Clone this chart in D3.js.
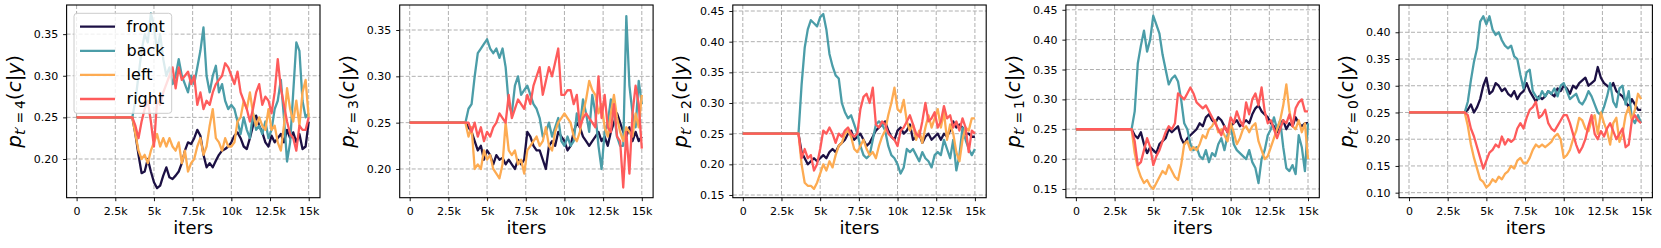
<!DOCTYPE html>
<html>
<head>
<meta charset="utf-8">
<script src="https://cdn.jsdelivr.net/npm/d3@7"></script>
<style>
  body { margin: 0; background: #fff; }
  svg { display: block; font-family: "DejaVu Sans", sans-serif; }
</style>
</head>
<body>
<div id="chart"></div>
<script>
// iteration steps after the flat warm-up part (all classes at 0.25 from 0 to 3.6k)
var iters = d3.range(3600, 15001, 200);
var classes = ["front", "back", "left", "right"];
var colors = ["#1c1044", "#4b9da8", "#fdab52", "#fe5b5b"];
var tPrime = [4, 3, 2, 1, 0];

var xTickValues = [0, 2500, 5000, 7500, 10000, 12500, 15000];
var xTickLabels = ["0", "2.5k", "5k", "7.5k", "10k", "12.5k", "15k"];
var yTicks = [
  [0.20, 0.25, 0.30, 0.35],
  [0.20, 0.25, 0.30, 0.35],
  [0.15, 0.20, 0.25, 0.30, 0.35, 0.40, 0.45],
  [0.15, 0.20, 0.25, 0.30, 0.35, 0.40, 0.45],
  [0.10, 0.15, 0.20, 0.25, 0.30, 0.35, 0.40]
];
var yLimits = [
  [0.1535, 0.385],
  [0.169, 0.377],
  [0.1456, 0.4598],
  [0.1354, 0.458],
  [0.0906, 0.451]
];

// t' = 4
var front4 = [0.25,0.23,0.205,0.183,0.185,0.20,0.185,0.172,0.165,0.168,
  0.18,0.19,0.178,0.176,0.18,0.185,0.195,0.21,0.22,0.218,
  0.225,0.235,0.228,0.205,0.19,0.195,0.19,0.198,0.205,0.21,
  0.212,0.215,0.22,0.228,0.232,0.225,0.215,0.212,0.225,0.24,
  0.252,0.24,0.232,0.22,0.215,0.228,0.22,0.225,0.23,0.22,
  0.235,0.225,0.232,0.22,0.23,0.212,0.215,0.245];
var back4 = [0.25,0.27,0.30,0.33,0.35,0.34,0.375,0.36,0.33,0.35,
  0.32,0.30,0.31,0.29,0.30,0.32,0.30,0.29,0.28,0.30,
  0.29,0.31,0.33,0.358,0.30,0.28,0.30,0.312,0.28,0.29,
  0.27,0.26,0.265,0.26,0.245,0.23,0.25,0.235,0.225,0.255,
  0.235,0.24,0.23,0.245,0.225,0.235,0.26,0.27,0.295,0.25,
  0.197,0.22,0.28,0.34,0.33,0.27,0.25,0.255];
var left4 = [0.25,0.23,0.21,0.20,0.205,0.195,0.21,0.22,0.23,0.215,
  0.225,0.215,0.225,0.215,0.21,0.22,0.195,0.21,0.185,0.195,
  0.20,0.215,0.225,0.205,0.215,0.24,0.26,0.225,0.22,0.21,
  0.225,0.215,0.215,0.22,0.245,0.25,0.27,0.26,0.28,0.255,
  0.24,0.25,0.24,0.235,0.26,0.235,0.24,0.22,0.21,0.24,
  0.285,0.26,0.245,0.27,0.24,0.28,0.295,0.25];
var right4 = [0.25,0.24,0.225,0.245,0.26,0.27,0.245,0.215,0.27,0.265,
  0.28,0.29,0.30,0.31,0.285,0.31,0.295,0.30,0.305,0.29,
  0.30,0.265,0.28,0.26,0.27,0.265,0.28,0.29,0.295,0.30,
  0.315,0.31,0.30,0.29,0.305,0.28,0.27,0.26,0.245,0.26,
  0.28,0.29,0.265,0.275,0.27,0.255,0.28,0.32,0.285,0.265,
  0.245,0.23,0.225,0.21,0.24,0.235,0.235,0.25];

// t' = 3
var front3 = [0.25,0.245,0.24,0.23,0.22,0.225,0.21,0.22,0.215,0.205,
  0.215,0.21,0.212,0.205,0.21,0.205,0.20,0.21,0.205,0.21,
  0.24,0.235,0.225,0.22,0.22,0.21,0.20,0.225,0.23,0.225,
  0.24,0.235,0.23,0.22,0.225,0.24,0.25,0.245,0.235,0.23,
  0.225,0.23,0.235,0.24,0.23,0.235,0.225,0.24,0.25,0.26,
  0.25,0.24,0.235,0.245,0.23,0.24,0.23,0.235];
var back3 = [0.25,0.265,0.27,0.30,0.325,0.33,0.335,0.34,0.33,0.325,
  0.33,0.32,0.33,0.31,0.27,0.26,0.29,0.30,0.28,0.285,
  0.29,0.28,0.27,0.265,0.255,0.235,0.24,0.25,0.235,0.245,
  0.255,0.23,0.225,0.235,0.225,0.23,0.26,0.245,0.275,0.26,
  0.24,0.28,0.26,0.225,0.20,0.24,0.25,0.275,0.26,0.235,
  0.225,0.225,0.365,0.29,0.26,0.245,0.295,0.27];
var left3 = [0.25,0.235,0.245,0.20,0.205,0.20,0.22,0.21,0.215,0.20,
  0.195,0.19,0.205,0.25,0.22,0.215,0.22,0.205,0.21,0.195,
  0.22,0.225,0.23,0.235,0.225,0.23,0.245,0.225,0.22,0.24,
  0.25,0.255,0.26,0.255,0.25,0.235,0.23,0.24,0.26,0.275,
  0.295,0.285,0.28,0.26,0.27,0.245,0.235,0.26,0.28,0.255,
  0.24,0.23,0.245,0.24,0.235,0.26,0.245,0.28];
var right3 = [0.25,0.25,0.24,0.25,0.235,0.245,0.23,0.24,0.235,0.245,
  0.25,0.26,0.255,0.25,0.28,0.255,0.265,0.275,0.27,0.265,
  0.28,0.27,0.29,0.30,0.31,0.28,0.295,0.31,0.30,0.315,
  0.33,0.28,0.28,0.285,0.285,0.27,0.28,0.245,0.255,0.26,
  0.255,0.25,0.245,0.30,0.255,0.28,0.245,0.24,0.27,0.235,
  0.23,0.18,0.24,0.195,0.26,0.29,0.27,0.222];

// t' = 2
var front2 = [0.25,0.22,0.21,0.20,0.205,0.21,0.205,0.21,0.215,0.21,
  0.22,0.225,0.22,0.23,0.235,0.24,0.25,0.255,0.24,0.245,
  0.25,0.24,0.23,0.235,0.245,0.255,0.26,0.265,0.27,0.255,
  0.245,0.24,0.255,0.26,0.25,0.255,0.265,0.24,0.245,0.25,
  0.235,0.245,0.25,0.24,0.245,0.25,0.24,0.25,0.245,0.255,
  0.27,0.26,0.265,0.26,0.25,0.25,0.245,0.245];
var back2 = [0.25,0.33,0.39,0.42,0.435,0.43,0.425,0.44,0.445,0.42,
  0.38,0.36,0.345,0.34,0.30,0.285,0.275,0.28,0.265,0.25,
  0.23,0.215,0.21,0.215,0.24,0.265,0.27,0.265,0.255,0.23,
  0.215,0.21,0.20,0.185,0.195,0.225,0.22,0.225,0.215,0.205,
  0.22,0.21,0.205,0.195,0.215,0.22,0.215,0.24,0.225,0.21,
  0.24,0.19,0.215,0.26,0.24,0.225,0.215,0.225];
var left2 = [0.25,0.20,0.17,0.165,0.165,0.16,0.17,0.185,0.20,0.19,
  0.205,0.195,0.215,0.23,0.235,0.25,0.255,0.245,0.225,0.22,
  0.23,0.24,0.225,0.215,0.22,0.21,0.23,0.245,0.255,0.28,
  0.30,0.325,0.29,0.285,0.305,0.27,0.255,0.265,0.24,0.255,
  0.235,0.26,0.28,0.26,0.275,0.29,0.26,0.285,0.24,0.265,
  0.25,0.22,0.205,0.24,0.26,0.255,0.275,0.275];
var right2 = [0.25,0.21,0.225,0.21,0.215,0.19,0.20,0.225,0.255,0.25,
  0.26,0.25,0.235,0.25,0.245,0.255,0.26,0.25,0.245,0.25,
  0.29,0.31,0.315,0.30,0.325,0.265,0.26,0.27,0.265,0.25,
  0.245,0.24,0.23,0.255,0.26,0.27,0.28,0.265,0.25,0.245,
  0.27,0.30,0.27,0.275,0.285,0.26,0.27,0.295,0.275,0.28,
  0.26,0.27,0.255,0.275,0.26,0.22,0.255,0.25];

// t' = 1
var front1 = [0.25,0.24,0.235,0.245,0.225,0.21,0.22,0.215,0.21,0.225,
  0.23,0.235,0.25,0.245,0.25,0.255,0.235,0.225,0.235,0.24,
  0.245,0.25,0.26,0.255,0.27,0.275,0.265,0.26,0.27,0.265,
  0.255,0.245,0.255,0.26,0.265,0.255,0.26,0.265,0.26,0.275,
  0.285,0.29,0.28,0.275,0.27,0.26,0.255,0.245,0.26,0.265,
  0.25,0.26,0.255,0.27,0.26,0.255,0.26,0.26];
var back1 = [0.25,0.28,0.36,0.39,0.415,0.38,0.40,0.44,0.425,0.41,
  0.375,0.35,0.325,0.335,0.34,0.33,0.30,0.26,0.25,0.225,
  0.215,0.22,0.205,0.20,0.215,0.195,0.21,0.205,0.225,0.235,
  0.215,0.24,0.26,0.225,0.215,0.21,0.205,0.20,0.215,0.195,
  0.185,0.16,0.20,0.215,0.24,0.25,0.27,0.25,0.265,0.22,
  0.185,0.18,0.19,0.175,0.24,0.22,0.18,0.26];
var left1 = [0.25,0.21,0.185,0.17,0.16,0.165,0.155,0.15,0.16,0.17,
  0.18,0.175,0.19,0.18,0.17,0.165,0.19,0.225,0.23,0.215,
  0.22,0.215,0.225,0.24,0.235,0.25,0.255,0.265,0.245,0.25,
  0.24,0.23,0.26,0.245,0.225,0.235,0.25,0.255,0.245,0.255,
  0.26,0.23,0.215,0.20,0.205,0.22,0.235,0.25,0.265,0.29,
  0.325,0.28,0.255,0.25,0.265,0.245,0.26,0.20];
var right1 = [0.25,0.23,0.19,0.195,0.215,0.235,0.22,0.19,0.205,0.215,
  0.23,0.245,0.255,0.25,0.26,0.31,0.305,0.30,0.31,0.32,
  0.31,0.295,0.29,0.285,0.29,0.28,0.27,0.26,0.25,0.24,
  0.255,0.245,0.27,0.26,0.28,0.265,0.255,0.295,0.275,0.30,
  0.31,0.29,0.32,0.28,0.26,0.265,0.25,0.235,0.25,0.265,
  0.26,0.275,0.255,0.285,0.295,0.30,0.28,0.28];

// t' = 0
var front0 = [0.25,0.255,0.265,0.25,0.26,0.275,0.30,0.315,0.285,0.29,
  0.305,0.30,0.29,0.295,0.285,0.28,0.29,0.275,0.285,0.29,
  0.305,0.29,0.28,0.27,0.28,0.275,0.28,0.29,0.285,0.28,
  0.295,0.29,0.30,0.295,0.285,0.30,0.295,0.305,0.31,0.315,
  0.30,0.305,0.31,0.335,0.315,0.305,0.30,0.295,0.305,0.29,
  0.285,0.28,0.27,0.26,0.275,0.265,0.255,0.255];
var back0 = [0.25,0.27,0.31,0.345,0.37,0.42,0.43,0.415,0.43,0.405,
  0.395,0.40,0.385,0.375,0.37,0.375,0.355,0.35,0.32,0.295,
  0.325,0.33,0.29,0.28,0.275,0.29,0.28,0.29,0.285,0.295,
  0.28,0.30,0.305,0.29,0.275,0.28,0.285,0.27,0.265,0.275,
  0.29,0.28,0.265,0.25,0.245,0.26,0.28,0.305,0.27,0.26,
  0.295,0.30,0.265,0.29,0.24,0.23,0.245,0.23];
var left0 = [0.25,0.225,0.19,0.165,0.145,0.125,0.12,0.11,0.115,0.125,
  0.12,0.13,0.125,0.135,0.14,0.15,0.145,0.16,0.165,0.155,
  0.155,0.165,0.18,0.19,0.185,0.19,0.185,0.19,0.195,0.205,
  0.21,0.20,0.165,0.17,0.18,0.20,0.215,0.24,0.235,0.22,
  0.215,0.235,0.245,0.21,0.25,0.23,0.215,0.19,0.23,0.24,
  0.195,0.21,0.245,0.26,0.235,0.255,0.285,0.275];
var right0 = [0.25,0.245,0.22,0.205,0.185,0.165,0.145,0.16,0.175,0.18,
  0.19,0.185,0.205,0.19,0.20,0.195,0.20,0.22,0.23,0.22,
  0.24,0.255,0.26,0.27,0.24,0.245,0.255,0.23,0.22,0.215,
  0.225,0.235,0.245,0.245,0.23,0.21,0.19,0.175,0.185,0.20,
  0.225,0.245,0.21,0.20,0.215,0.205,0.22,0.23,0.215,0.20,
  0.21,0.22,0.185,0.19,0.235,0.245,0.235,0.23];

var panelSeries = [
  [front4, back4, left4, right4],
  [front3, back3, left3, right3],
  [front2, back2, left2, right2],
  [front1, back1, left1, right1],
  [front0, back0, left0, right0]
];

var width = 1661, height = 248;
var frameW = 253.4, frameH = 192.7, frameTop = 5;

var svg = d3.select("#chart")
  .append("svg")
    .attr("width", width)
    .attr("height", height);

var x = d3.scaleLinear()
  .domain([0, 15000])
  .range([10, 242.1]);

panelSeries.forEach(function(series, p) {
  var g = svg.append("g")
    .attr("transform", "translate(" + (66.6 + p * 333.1) + "," + frameTop + ")");

  var y = d3.scaleLinear()
    .domain(yLimits[p])
    .range([frameH, 0]);

  g.append("clipPath")
      .attr("id", "clip" + p)
    .append("rect")
      .attr("width", frameW)
      .attr("height", frameH);

  // dashed grid
  g.selectAll(".vgrid")
    .data(xTickValues)
    .enter()
    .append("line")
      .attr("x1", function(d) { return x(d); })
      .attr("x2", function(d) { return x(d); })
      .attr("y1", 0)
      .attr("y2", frameH)
      .attr("stroke", "#b0b0b0")
      .attr("stroke-width", 1)
      .attr("stroke-dasharray", "4,2");
  g.selectAll(".hgrid")
    .data(yTicks[p])
    .enter()
    .append("line")
      .attr("x1", 0)
      .attr("x2", frameW)
      .attr("y1", function(d) { return y(d); })
      .attr("y2", function(d) { return y(d); })
      .attr("stroke", "#b0b0b0")
      .attr("stroke-width", 1)
      .attr("stroke-dasharray", "4,2");

  var line = d3.line()
    .x(function(d) { return x(d[0]); })
    .y(function(d) { return y(d[1]); });

  series.forEach(function(vals, k) {
    var pts = [[0, 0.25]].concat(vals.map(function(v, i) { return [iters[i], v]; }));
    g.append("path")
      .datum(pts)
      .attr("clip-path", "url(#clip" + p + ")")
      .attr("fill", "none")
      .attr("stroke", colors[k])
      .attr("stroke-width", 2.3)
      .attr("stroke-linejoin", "round")
      .attr("d", line);
  });

  g.append("rect")
    .attr("width", frameW)
    .attr("height", frameH)
    .attr("fill", "none")
    .attr("stroke", "#000")
    .attr("stroke-width", 1.1);

  var xAxis = g.append("g")
    .attr("transform", "translate(0," + frameH + ")")
    .call(d3.axisBottom(x)
      .tickValues(xTickValues)
      .tickFormat(function(d, i) { return xTickLabels[i]; })
      .tickSize(3.5)
      .tickPadding(6));
  var yAxis = g.append("g")
    .call(d3.axisLeft(y)
      .tickValues(yTicks[p])
      .tickFormat(d3.format(".2f"))
      .tickSize(3.5)
      .tickPadding(4.9));
  [xAxis, yAxis].forEach(function(a) {
    a.select(".domain").remove();
    a.selectAll("line").attr("stroke", "#000").attr("stroke-width", 0.9);
    a.selectAll("text")
      .attr("fill", "#000")
      .style("font-family", "DejaVu Sans")
      .style("font-size", "11px");
  });

  g.append("text")
    .attr("x", frameW / 2)
    .attr("y", 229)
    .attr("text-anchor", "middle")
    .style("font-size", "18px")
    .text("iters");

  // y label p_{t'=k}(c|y)
  var yl = g.append("text")
    .attr("transform", "translate(-46," + (frameH / 2) + ") rotate(-90)")
    .attr("text-anchor", "middle")
    .style("font-size", "20px");
  yl.append("tspan").style("font-style", "italic").text("p");
  yl.append("tspan").attr("dy", 4.5).style("font-size", "14px").style("font-style", "italic").text("t");
  yl.append("tspan").style("font-size", "14px").text("\u2032\u2009=\u2009" + tPrime[p]);
  yl.append("tspan").attr("dy", -4.5).text("(");
  yl.append("tspan").style("font-style", "italic").text("c");
  yl.append("tspan").text("|");
  yl.append("tspan").style("font-style", "italic").text("y");
  yl.append("tspan").text(")");

  if (p === 0) {
    var leg = g.append("g").attr("transform", "translate(7.4,8.3)");
    leg.append("rect")
      .attr("width", 97.7)
      .attr("height", 100)
      .attr("rx", 3)
      .attr("fill", "#fff")
      .attr("fill-opacity", 0.8)
      .attr("stroke", "#cccccc")
      .attr("stroke-width", 1);
    classes.forEach(function(c, k) {
      var cy = 13.4 + k * 24.1;
      leg.append("line")
        .attr("x1", 6)
        .attr("x2", 41)
        .attr("y1", cy)
        .attr("y2", cy)
        .attr("stroke", colors[k])
        .attr("stroke-width", 2.3);
      leg.append("text")
        .attr("x", 52.6)
        .attr("y", cy + 5.5)
        .style("font-size", "16px")
        .text(c);
    });
  }
});
</script>
</body>
</html>
